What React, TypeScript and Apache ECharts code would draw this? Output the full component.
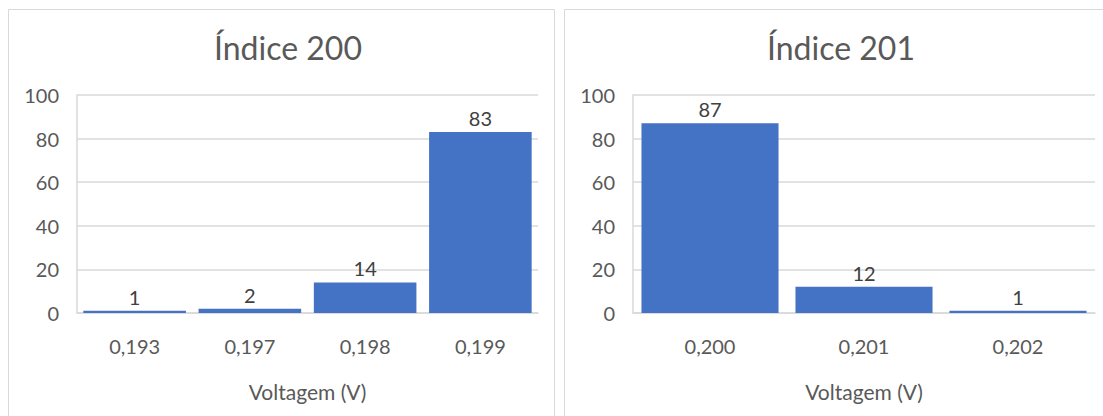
import React, { useEffect, useRef } from "react";
import * as echarts from "echarts";

const titleLeft = "Índice 200";
const titleRight = "Índice 201";
const catsLeft = ["0,193", "0,197", "0,198", "0,199"];
const valsLeft = [1, 2, 14, 83];
const catsRight = ["0,200", "0,201", "0,202"];
const valsRight = [87, 12, 1];
const xName = "Voltagem (V)";
const yMin = 0;
const yMax = 100;
const yStep = 20;

const FONT = "Lato, 'Open Sans', sans-serif";
const BAR = "#4472C4";
const TXT = "#595959";
const GRID = "#D9D9D9";

export default function App() {
  const ref = useRef<HTMLDivElement>(null);
  useEffect(() => {
    if (!ref.current) return;
    const chart = echarts.init(ref.current, undefined, { renderer: "svg" });
    const xAxis = (idx: number, cats: string[]) => ({
      type: "category",
      gridIndex: idx,
      data: cats,
      axisLine: { show: true, lineStyle: { color: GRID, width: 1.5 } },
      axisTick: { show: false },
      axisLabel: { color: TXT, fontSize: 20, fontFamily: FONT, margin: 23 },
      name: xName,
      nameLocation: "middle",
      nameGap: 68,
      nameTextStyle: { color: TXT, fontSize: 21, fontFamily: FONT },
    });
    const yAxis = (idx: number) => ({
      type: "value",
      gridIndex: idx,
      min: yMin,
      max: yMax,
      interval: yStep,
      axisLine: { show: true, lineStyle: { color: GRID, width: 1.5 } },
      axisTick: { show: false },
      splitLine: { show: true, lineStyle: { color: GRID, width: 1.5 } },
      axisLabel: { color: TXT, fontSize: 20, fontFamily: FONT, margin: 18 },
    });
    const series = (idx: number, vals: number[]) => ({
      type: "bar",
      xAxisIndex: idx,
      yAxisIndex: idx,
      data: vals,
      barCategoryGap: "11%",
      itemStyle: { color: BAR },
      label: {
        show: true,
        position: "top",
        distance: 4,
        color: "#404040",
        fontSize: 20,
        fontFamily: FONT,
      },
    });
    chart.setOption({
      animation: false,
      title: [
        {
          text: titleLeft,
          left: 283,
          top: 26,
          textAlign: "center",
          textStyle: { color: TXT, fontSize: 32, fontWeight: "normal", fontFamily: FONT },
        },
        {
          text: titleRight,
          left: 836,
          top: 26,
          textAlign: "center",
          textStyle: { color: TXT, fontSize: 32, fontWeight: "normal", fontFamily: FONT },
        },
      ],
      graphic: [
        {
          type: "rect",
          shape: { x: 8.5, y: 9.5, width: 546, height: 420 },
          style: { fill: "none", stroke: GRID, lineWidth: 1 },
          z: 0,
        },
        {
          type: "rect",
          shape: { x: 564.5, y: 9.5, width: 560, height: 420 },
          style: { fill: "none", stroke: GRID, lineWidth: 1 },
          z: 0,
        },
      ],
      grid: [
        { left: 77, right: 565, top: 95, bottom: 103 },
        { left: 633, right: 8, top: 95, bottom: 103 },
      ],
      xAxis: [xAxis(0, catsLeft), xAxis(1, catsRight)],
      yAxis: [yAxis(0), yAxis(1)],
      series: [series(0, valsLeft), series(1, valsRight)],
    });
    return () => chart.dispose();
  }, []);
  return (
    <div
      ref={ref}
      style={{ position: "fixed", left: 0, top: 0, width: 1103, height: 416, background: "#fff" }}
    />
  );
}
